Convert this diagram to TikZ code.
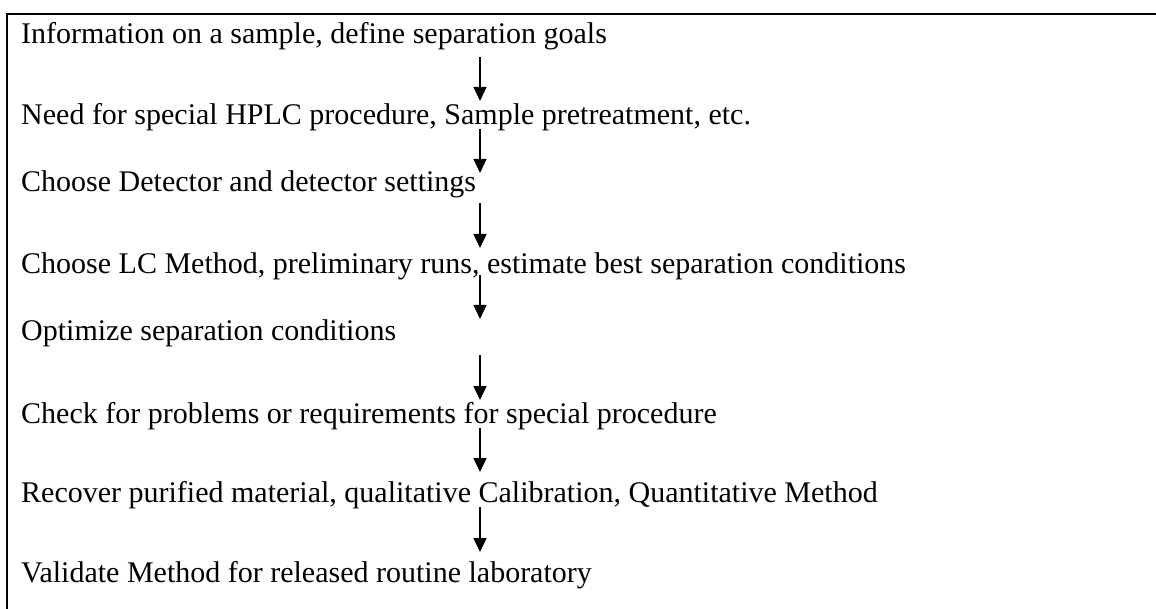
\documentclass[tikz,border=0pt]{standalone}
\usepackage{fontspec}
\setmainfont{Liberation Serif}
\usetikzlibrary{arrows.meta}
\tikzset{
  steptext/.style={anchor=base west, inner sep=0pt, font=\fontsize{30}{36}\selectfont},
  flowarrow/.style={line width=1.3pt, -{Triangle[length=14pt,width=13pt]}},
  frameline/.style={line width=2.8pt, line join=miter}
}
\begin{document}
\begin{tikzpicture}[x=1pt,y=-1pt]
\useasboundingbox (0,0) rectangle (1156,609);
% frame: top and left edges
\draw[frameline] (1160,14) -- (7,14) -- (7,613);
% procedure steps
\node[steptext] (s1) at (21,44)  {Information on a sample, define separation goals};
\node[steptext] (s2) at (21,125) {Need for special HPLC procedure, Sample pretreatment, etc.};
\node[steptext] (s3) at (21,192) {Choose Detector and detector settings};
\node[steptext] (s4) at (21,274) {Choose LC Method, preliminary runs, estimate best separation conditions};
\node[steptext] (s5) at (21,341) {Optimize separation conditions};
\node[steptext] (s6) at (21,423) {Check for problems or requirements for special procedure};
\node[steptext] (s7) at (21,502) {Recover purified material, qualitative Calibration, Quantitative Method};
\node[steptext] (s8) at (21,582) {Validate Method for released routine laboratory};
% arrow end points
\coordinate (a1s) at (480,57);  \coordinate (a1e) at (480,101);
\coordinate (a2s) at (480,129); \coordinate (a2e) at (480,173);
\coordinate (a3s) at (480,203); \coordinate (a3e) at (480,248);
\coordinate (a4s) at (480,275); \coordinate (a4e) at (480,319);
\coordinate (a5s) at (480,355); \coordinate (a5e) at (480,400);
\coordinate (a6s) at (480,428); \coordinate (a6e) at (480,472);
\coordinate (a7s) at (480,507); \coordinate (a7e) at (480,552);
\draw[flowarrow] (a1s) -- (a1e);
\draw[flowarrow] (a2s) -- (a2e);
\draw[flowarrow] (a3s) -- (a3e);
\draw[flowarrow] (a4s) -- (a4e);
\draw[flowarrow] (a5s) -- (a5e);
\draw[flowarrow] (a6s) -- (a6e);
\draw[flowarrow] (a7s) -- (a7e);
\end{tikzpicture}
\end{document}
